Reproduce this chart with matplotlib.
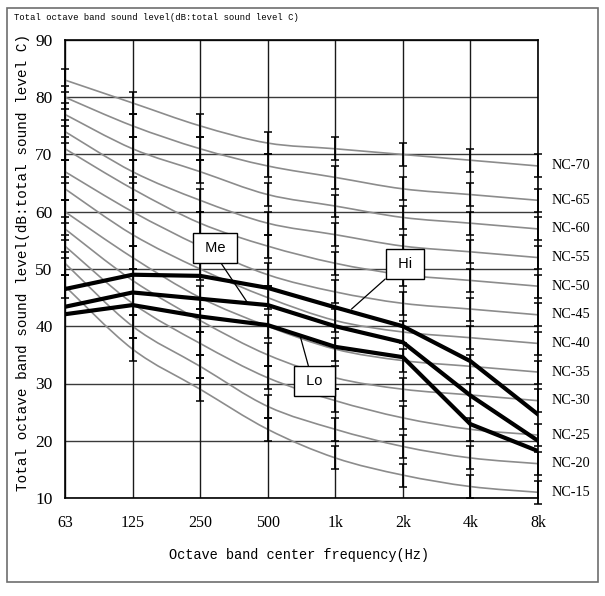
import matplotlib
matplotlib.use("Agg")
import matplotlib.pyplot as plt
from matplotlib.patches import Rectangle, PathPatch
from matplotlib.path import Path

# ---- data ----
freq_labels = ["63", "125", "250", "500", "1k", "2k", "4k", "8k"]
nc_names = ["NC-15", "NC-20", "NC-25", "NC-30", "NC-35", "NC-40",
            "NC-45", "NC-50", "NC-55", "NC-60", "NC-65", "NC-70"]
nc15 = [47, 36, 29, 22, 17, 14, 12, 11]
nc20 = [51, 40, 33, 26, 22, 19, 17, 16]
nc25 = [54, 44, 37, 31, 27, 24, 22, 21]
nc30 = [57, 48, 41, 35, 31, 29, 28, 27]
nc35 = [60, 52, 45, 40, 36, 34, 33, 32]
nc40 = [64, 56, 50, 45, 41, 39, 38, 37]
nc45 = [67, 60, 54, 49, 46, 44, 43, 42]
nc50 = [71, 64, 58, 54, 51, 49, 48, 47]
nc55 = [74, 67, 62, 58, 56, 54, 53, 52]
nc60 = [77, 71, 67, 63, 61, 59, 58, 57]
nc65 = [80, 75, 71, 68, 66, 64, 63, 62]
nc70 = [83, 79, 75, 72, 71, 70, 69, 68]
nc_err = 2

hi = [46.5, 49.0, 48.8, 46.7, 43.3, 40.0, 33.9, 24.6]
me = [43.4, 45.9, 44.8, 43.7, 40.0, 37.2, 27.9, 20.0]
lo = [42.1, 43.7, 41.7, 40.2, 36.4, 34.6, 22.9, 18.2]

y_ticks = [10, 20, 30, 40, 50, 60, 70, 80, 90]

title_text = "Total octave band sound level(dB:total sound level C)"
ylabel_text = "Total octave band sound level(dB:total sound level C)"
xlabel_text = "Octave band center frequency(Hz)"


def smooth_path(xs, ys):
    """Catmull-Rom style smoothed path through the given points (like Excel's smoothed line)."""
    pts = list(zip(xs, ys))
    n = len(pts)
    verts = [pts[0]]
    codes = [Path.MOVETO]
    for i in range(n - 1):
        p0 = pts[i - 1] if i > 0 else pts[i]
        p1 = pts[i]
        p2 = pts[i + 1]
        p3 = pts[i + 2] if i + 2 < n else pts[i + 1]
        c1 = (p1[0] + (p2[0] - p0[0]) / 6, p1[1] + (p2[1] - p0[1]) / 6)
        c2 = (p2[0] - (p3[0] - p1[0]) / 6, p2[1] - (p3[1] - p1[1]) / 6)
        verts += [c1, c2, p2]
        codes += [Path.CURVE4] * 3
    return Path(verts, codes)


# ---- figure ----
W, H = 605, 596
fig = plt.figure(figsize=(W / 100, H / 100), dpi=100)
ax = fig.add_axes([65 / W, 1 - 498 / H, (538 - 65) / W, (498 - 40) / H])

x = list(range(len(freq_labels)))
ax.set_xlim(0, len(freq_labels) - 1)
ax.set_ylim(10, 90)

# grid
for yv in y_ticks:
    ax.axhline(yv, color="#3a3a3a", lw=1.0, zorder=1)
for xv in x:
    ax.axvline(xv, color="#1a1a1a", lw=1.0, zorder=1)

nc_all = [nc15, nc20, nc25, nc30, nc35, nc40, nc45, nc50, nc55, nc60, nc65, nc70]
for name, vals in zip(nc_names, nc_all):
    ax.add_patch(PathPatch(smooth_path(x, vals), fill=False, edgecolor="#8c8c8c",
                           lw=1.2, zorder=2, clip_on=False))
    ax.errorbar(x, vals, yerr=nc_err, fmt="none", ecolor="black",
                elinewidth=1.3, capsize=3, capthick=1.1, zorder=3, clip_on=False)
    ax.annotate(name, xy=(x[-1], vals[-1]), xytext=(10, 0),
                textcoords="offset points", ha="left", va="center",
                fontsize=10.3, family="Liberation Serif", annotation_clip=False)

for vals in (hi, me, lo):
    ax.plot(x, vals, color="black", lw=3.0, zorder=5, solid_joinstyle="miter")

box = dict(boxstyle="square,pad=0.55", fc="white", ec="black", lw=1.0)
ax.annotate(" Me ", xy=(2.69, 44.3), xytext=(2.22, 53.6), ha="center", va="center",
            fontsize=10.5, family="Liberation Sans", bbox=box, zorder=6,
            arrowprops=dict(arrowstyle="-", color="black", lw=0.9,
                            relpos=(0.53, 0.0), shrinkA=0, shrinkB=0))
ax.annotate(" Hi ", xy=(4.24, 43.0), xytext=(5.03, 50.8), ha="center", va="center",
            fontsize=10.5, family="Liberation Sans", bbox=box, zorder=6,
            arrowprops=dict(arrowstyle="-", color="black", lw=0.9,
                            relpos=(0.0, 0.0), shrinkA=0, shrinkB=0))
ax.annotate(" Lo ", xy=(3.48, 38.3), xytext=(3.69, 30.4), ha="center", va="center",
            fontsize=10.5, family="Liberation Sans", bbox=box, zorder=6,
            arrowprops=dict(arrowstyle="-", color="black", lw=0.9,
                            relpos=(0.35, 1.0), shrinkA=0, shrinkB=0))

ax.set_xticks(x)
ax.set_xticklabels(freq_labels, fontsize=11.5, family="Liberation Serif")
ax.set_yticks(y_ticks)
ax.set_yticklabels([str(v) for v in y_ticks], fontsize=12.5, family="Liberation Serif")
ax.tick_params(axis="both", length=0)
ax.tick_params(axis="x", pad=12)
ax.tick_params(axis="y", pad=9)
for s in ax.spines.values():
    s.set_color("black")
    s.set_linewidth(1.2)

fig.text(299 / W, 1 - 555 / H, xlabel_text, ha="center", va="center",
         fontsize=9.8, family="Liberation Mono")
fig.text(23 / W, 1 - 262 / H, ylabel_text, ha="center", va="center", rotation=90,
         fontsize=10.4, family="Liberation Mono")
fig.text(14 / W, 1 - 18 / H, title_text, ha="left", va="center",
         fontsize=6.4, family="Liberation Mono")

fig.patches.append(Rectangle((7 / W, 1 - 582 / H), (598 - 7) / W, (582 - 8) / H,
                             transform=fig.transFigure, fill=False,
                             edgecolor="#6e6e6e", lw=1.2))

fig.savefig("out.png", dpi=100)
